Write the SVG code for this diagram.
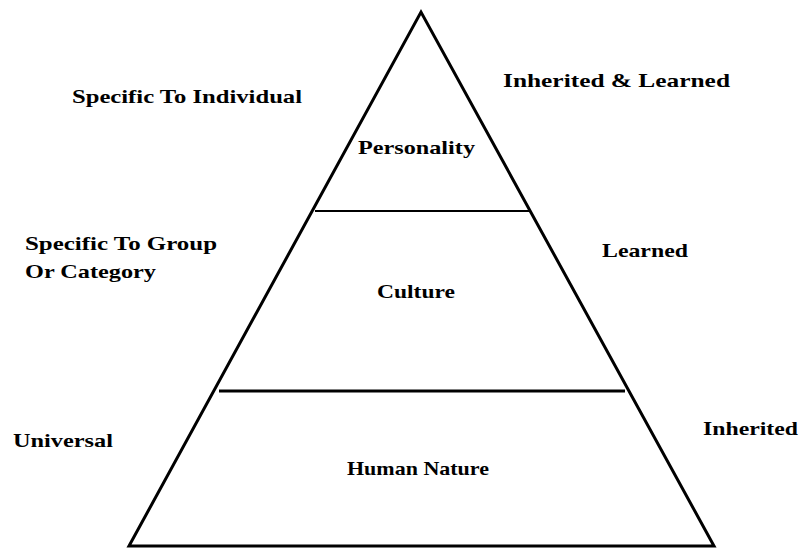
<svg xmlns="http://www.w3.org/2000/svg" width="805" height="549" viewBox="0 0 805 549">
<style>
.t{font-family:"Liberation Serif","Times New Roman",serif;font-weight:bold;font-size:19px;fill:#000}
.edge{stroke:#000;fill:none;stroke-linejoin:miter}
</style>
<rect width="805" height="549" fill="#fff"/>
<g id="connectors">
<path class="edge" d="M129,546 L421,12 L714,546 Z" stroke-width="3"/>
<line class="edge" x1="315" y1="211" x2="529" y2="211" stroke-width="2"/>
<line class="edge" x1="219" y1="391" x2="625" y2="391" stroke-width="3"/>
</g>
<g id="personality"><text class="t" x="358" y="154" textLength="117" lengthAdjust="spacingAndGlyphs">Personality</text></g>
<g id="culture"><text class="t" x="377" y="298" textLength="78" lengthAdjust="spacingAndGlyphs">Culture</text></g>
<g id="human-nature"><text class="t" x="347" y="475" textLength="142" lengthAdjust="spacingAndGlyphs">Human Nature</text></g>
<g id="label-individual"><text class="t" x="72" y="103" textLength="230" lengthAdjust="spacingAndGlyphs">Specific To Individual</text></g>
<g id="label-inherited-learned"><text class="t" x="503" y="87" textLength="227" lengthAdjust="spacingAndGlyphs">Inherited &amp; Learned</text></g>
<g id="label-group"><text class="t" x="25" y="250" textLength="192" lengthAdjust="spacingAndGlyphs">Specific To Group</text><text class="t" x="25" y="278" textLength="131" lengthAdjust="spacingAndGlyphs">Or Category</text></g>
<g id="label-learned"><text class="t" x="602" y="257" textLength="86" lengthAdjust="spacingAndGlyphs">Learned</text></g>
<g id="label-universal"><text class="t" x="13" y="447" textLength="100" lengthAdjust="spacingAndGlyphs">Universal</text></g>
<g id="label-inherited"><text class="t" x="703" y="435" textLength="95" lengthAdjust="spacingAndGlyphs">Inherited</text></g>
</svg>
